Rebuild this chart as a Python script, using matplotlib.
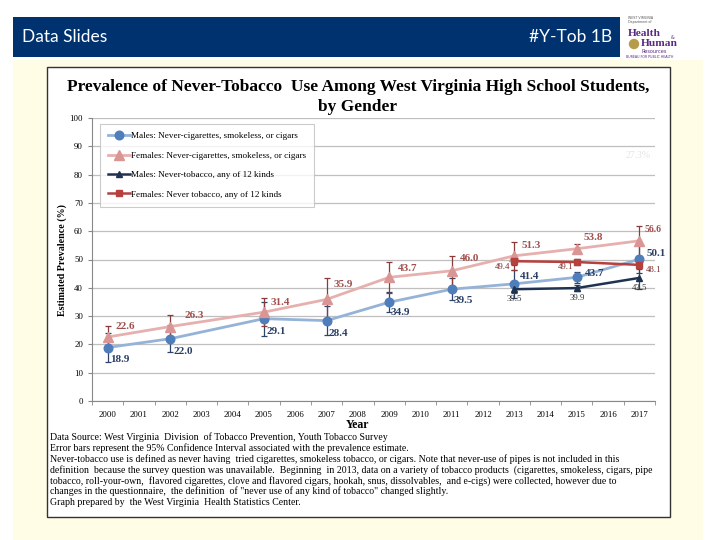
import matplotlib
matplotlib.use("Agg")
import matplotlib.pyplot as plt
from matplotlib.patches import Rectangle
import numpy as np

years = [str(y) for y in range(2000, 2018)]

# survey years and estimates
m_years = [2000, 2002, 2005, 2007, 2009, 2011, 2013, 2015, 2017]
males = [18.9, 22.0, 29.1, 28.4, 34.9, 39.5, 41.4, 43.7, 50.1]
males_err = [5.0, 4.8, 6.0, 5.0, 3.5, 3.8, 5.0, 2.0, 5.0]
females = [22.6, 26.3, 31.4, 35.9, 43.7, 46.0, 51.3, 53.8, 56.6]
females_err = [4.0, 4.2, 5.0, 7.5, 5.5, 5.3, 5.0, 1.6, 5.2]

k_years = [2013, 2015, 2017]
males12 = [39.5, 39.9, 43.5]
males12_err = [1.5, 1.2, 4.0]
females12 = [49.4, 49.1, 48.1]
females12_err = [1.2, 1.2, 1.5]

serif = "Liberation Serif"

fig = plt.figure(figsize=(7.2, 5.4), dpi=100)

# slide background drawn in pixel coords
bg = fig.add_axes([0, 0, 1, 1], zorder=0)
bg.set_xlim(0, 720)
bg.set_ylim(540, 0)
bg.axis("off")
bg.add_patch(Rectangle((13, 60), 690, 480, color="#FFFDE6", lw=0))
bg.add_patch(Rectangle((13, 17), 607, 40, color="#003270", lw=0))
bg.text(22, 37, "Data Slides", color="white", fontsize=12.5, family="Lato", va="center")
bg.text(612, 37, "#Y-Tob 1B", color="white", fontsize=12.5, family="Lato", va="center", ha="right")
# logo
bg.text(628, 16, "WEST VIRGINIA\nDepartment of", fontsize=2.3, color="#555555", va="top", linespacing=0.9)
bg.text(628, 38, "Health", fontsize=8.2, color="#5A2A82", fontweight="bold", family=serif, va="bottom")
bg.text(671, 40, "&", fontsize=3.5, color="#5A2A82", va="bottom")
bg.text(641, 48, "Human", fontsize=8.2, color="#5A2A82", fontweight="bold", family=serif, va="bottom")
bg.add_patch(plt.Circle((634, 44), 4.5, color="#B89B4A"))
bg.text(642, 54, "Resources", fontsize=3.6, color="#5A2A82", va="bottom")
bg.text(626, 59, "BUREAU FOR PUBLIC HEALTH", fontsize=2.3, color="#5A2A82", va="bottom")
bg.add_patch(Rectangle((47, 67), 623, 450, facecolor="white", edgecolor="#333333", lw=1))

bg.text(358, 87, "Prevalence of Never-Tobacco  Use Among West Virginia High School Students,",
        family=serif, fontweight="bold", fontsize=12.5, ha="center", va="center")
bg.text(358, 107, "by Gender", family=serif, fontweight="bold", fontsize=12.5, ha="center", va="center")

notes = [
    "Data Source: West Virginia  Division  of Tobacco Prevention, Youth Tobacco Survey",
    "Error bars represent the 95% Confidence Interval associated with the prevalence estimate.",
    "Never-tobacco use is defined as never having  tried cigarettes, smokeless tobacco, or cigars. Note that never-use of pipes is not included in this",
    "definition  because the survey question was unavailable.  Beginning  in 2013, data on a variety of tobacco products  (cigarettes, smokeless, cigars, pipe",
    "tobacco, roll-your-own,  flavored cigarettes, clove and flavored cigars, hookah, snus, dissolvables,  and e-cigs) were collected, however due to",
    "changes in the questionnaire,  the definition  of \"never use of any kind of tobacco\" changed slightly.",
    "Graph prepared by  the West Virginia  Health Statistics Center.",
]
for i, line in enumerate(notes):
    bg.text(50, 437 + i * 10.9, line, family=serif, fontsize=7.1, va="center")

bg.text(358, 425, "Year", family=serif, fontweight="bold", fontsize=8.5, ha="center", va="center")
bg.text(62, 260, "Estimated Prevalence (%)", family=serif, fontweight="bold", fontsize=7.2,
        ha="center", va="center", rotation=90)
bg.text(626, 156, "27.3%", family=serif, fontsize=7, color="#E4E4E4", va="center")

# chart
ax = fig.add_axes([92 / 720, 1 - 401 / 540, (655 - 92) / 720, (401 - 118) / 540], zorder=1)
ax.patch.set_alpha(0)
ax.set_xlim(-0.5, 17.5)
ax.set_ylim(0, 100)
ax.set_yticks(range(0, 101, 10))
ax.set_xticks(range(18))
ax.set_xticklabels(years)
ax.set_xticks(np.arange(-0.5, 18, 1), minor=True)
ax.tick_params(axis="x", which="major", length=0, pad=7, labelsize=6.3)
ax.tick_params(axis="x", which="minor", length=3, color="#888888")
ax.tick_params(axis="y", length=3, color="#888888", labelsize=6.3)
for lab in ax.get_xticklabels() + ax.get_yticklabels():
    lab.set_family(serif)
ax.grid(axis="y", color="#BFBFBF", lw=0.9)
ax.set_axisbelow(True)
for s in ["top", "right"]:
    ax.spines[s].set_visible(False)
for s in ["left", "bottom"]:
    ax.spines[s].set_color("#888888")

mx = [y - 2000 for y in m_years]
kx = [y - 2000 for y in k_years]

ax.errorbar(mx, males, yerr=males_err, fmt="none", ecolor="#2F4468", elinewidth=0.9, capsize=2.5, capthick=0.9, zorder=2)
ax.errorbar(mx, females, yerr=females_err, fmt="none", ecolor="#8B3A3A", elinewidth=0.9, capsize=2.5, capthick=0.9, zorder=2)
ax.errorbar(kx, males12, yerr=males12_err, fmt="none", ecolor="#2F4468", elinewidth=0.9, capsize=2.5, capthick=0.9, zorder=2)
ax.errorbar(kx, females12, yerr=females12_err, fmt="none", ecolor="#8B3A3A", elinewidth=0.9, capsize=2.5, capthick=0.9, zorder=2)

l1, = ax.plot(mx, males, color="#95B3D7", lw=2, marker="o", ms=6.2, mfc="#4F7EBB", mec="#4F7EBB", zorder=3,
              label="Males: Never-cigarettes, smokeless, or cigars")
l2, = ax.plot(mx, females, color="#E6B0AE", lw=2, marker="^", ms=6.5, mfc="#D99694", mec="#D99694", zorder=3,
              label="Females: Never-cigarettes, smokeless, or cigars")
l3, = ax.plot(kx, males12, color="#1F3350", lw=1.8, marker="^", ms=5, zorder=4,
              label="Males: Never-tobacco, any of 12 kinds")
l4, = ax.plot(kx, females12, color="#B5403E", lw=1.8, marker="s", ms=5, zorder=4,
              label="Females: Never tobacco, any of 12 kinds")

leg = ax.legend(handles=[l1, l2, l3, l4], loc="upper left", bbox_to_anchor=(0.014, 0.98),
                prop={"family": serif, "size": 6.6}, frameon=True, fancybox=False,
                edgecolor="#BFBFBF", borderpad=0.9, labelspacing=1.2, handlelength=2.4,
                handletextpad=0.1, borderaxespad=0)
leg.get_frame().set_linewidth(0.8)

px = 0.72  # points per pixel
m_off = [(3, -12), (3, -13), (2, -13), (2, -13), (1, -10), (2, -11), (6, 7), (8, 4), (7, 6)]
f_off = [(8, 11), (14, 11), (7, 10), (7, 15), (9, 9), (8, 12), (7, 10), (7, 11), (5, 11)]
for x, v, (dx, dy) in zip(mx, males, m_off):
    ax.annotate(f"{v:.1f}", (x, v), xytext=(dx * px, dy * px), textcoords="offset points",
                family=serif, fontweight="bold", fontsize=8, color="#2A3F66", ha="left", va="center", zorder=5)
for i, (x, v, (dx, dy)) in enumerate(zip(mx, females, f_off)):
    ax.annotate(f"{v:.1f}", (x, v), xytext=(dx * px, dy * px), textcoords="offset points",
                family=serif, fontweight="bold", fontsize=8 if i < 8 else 7, color="#A0504E",
                ha="left", va="center", zorder=5)
k_off = [(-4, -6, "right"), (-3, -5, "right"), (6, -5, "left")]
for x, v, (dx, dy, ha) in zip(kx, females12, k_off):
    ax.annotate(f"{v:.1f}", (x, v), xytext=(dx * px, dy * px), textcoords="offset points",
                family=serif, fontsize=6.3, color="#7A2A28", ha=ha, va="center", zorder=5)
for x, v in zip(kx, males12):
    ax.annotate(f"{v:.1f}", (x, v), xytext=(0, -10 * px), textcoords="offset points",
                family=serif, fontsize=6.3, color="#333333", ha="center", va="center", zorder=5)

fig.savefig("out.png", dpi=100)
